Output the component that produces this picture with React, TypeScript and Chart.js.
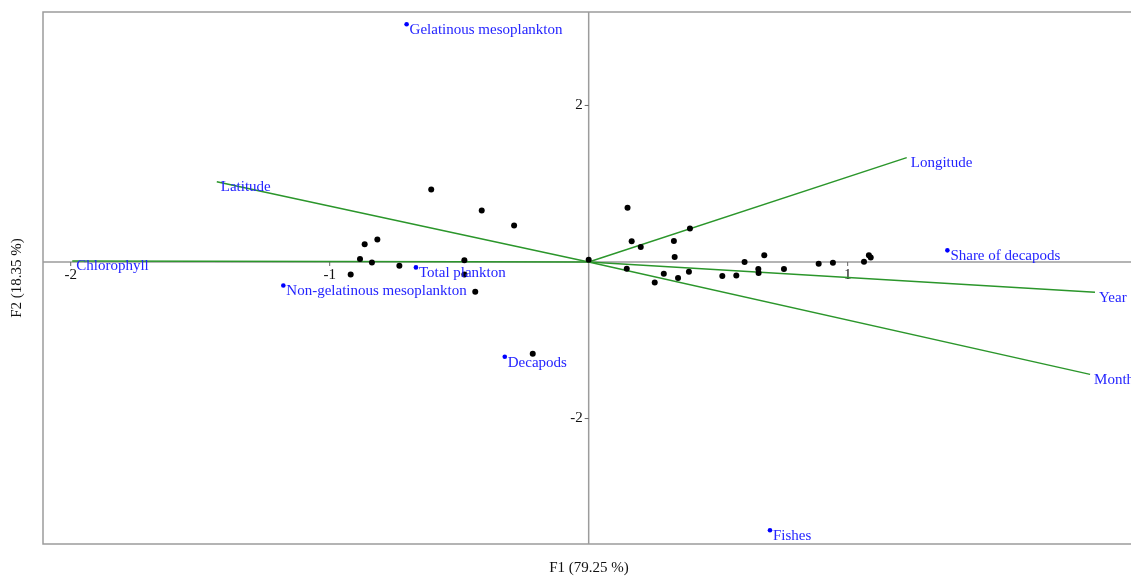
import React, { useEffect, useRef } from "react";
import { Chart, registerables } from "chart.js";

Chart.register(...registerables);

// Observations (black points)
const obsX = [-0.608, -0.413, -0.288, -0.816, -0.865, -0.883, -0.837, -0.731, -0.919, -0.48, -0.48, -0.438, -0.216, 0.0,
  0.15, 0.166, 0.201, 0.329, 0.391, 0.332, 0.147, 0.255, 0.29, 0.345, 0.387, 0.516, 0.57, 0.602, 0.655, 0.656, 0.678,
  0.754, 0.888, 0.943, 1.063, 1.082, 1.089];
const obsY = [0.926, 0.658, 0.465, 0.286, 0.226, 0.038, -0.005, -0.047, -0.159, 0.021, -0.159, -0.381, -1.172, 0.03,
  0.692, 0.264, 0.192, 0.269, 0.427, 0.064, -0.086, -0.261, -0.15, -0.205, -0.124, -0.18, -0.171, 0.0, -0.09, -0.141, 0.085,
  -0.09, -0.022, -0.009, 0.004, 0.085, 0.059];

// Supplementary variables (blue points)
const varNames = ["Gelatinous mesoplankton", "Non-gelatinous mesoplankton", "Total plankton", "Decapods", "Fishes", "Share of decapods"];
const varX = [-0.703, -1.179, -0.667, -0.324, 0.7, 1.385];
const varY = [3.038, -0.3, -0.069, -1.21, -3.428, 0.149];

// Active variables (green vectors)
const vecNames = ["Latitude", "Chlorophyll", "Longitude", "Year", "Month"];
const vecX = [-1.436, -1.994, 1.228, 1.955, 1.936];
const vecY = [1.026, 0.013, 1.333, -0.385, -1.436];

const xTicks = [-2, -1, 1];
const yTicks = [-2, 2];
const xTitle = "F1 (79.25 %)";
const yTitle = "F2 (18.35 %)";

const FONT = "'Liberation Serif', 'Times New Roman', serif";
const GREEN = "#2b962b";
const BLUE = "#0000ff";
const LABEL_BLUE = "#2424ff";
const GRAY = "#9c9c9c";

const biplotPlugin = {
  id: "biplot",
  beforeDatasetsDraw(chart: any) {
    const { ctx, chartArea: a, scales } = chart;
    const x0 = scales.x.getPixelForValue(0);
    const y0 = scales.y.getPixelForValue(0);
    ctx.save();
    ctx.strokeStyle = GRAY;
    ctx.lineWidth = 1.5;
    // frame (left, top, bottom)
    ctx.beginPath();
    ctx.moveTo(a.right + 5, a.top);
    ctx.lineTo(a.left, a.top);
    ctx.lineTo(a.left, a.bottom);
    ctx.lineTo(a.right + 5, a.bottom);
    ctx.stroke();
    // zero axes
    ctx.beginPath();
    ctx.moveTo(a.left, y0);
    ctx.lineTo(a.right, y0);
    ctx.moveTo(x0, a.top);
    ctx.lineTo(x0, a.bottom);
    ctx.stroke();
    // ticks
    ctx.lineWidth = 1;
    ctx.strokeStyle = "#666";
    ctx.font = `15px ${FONT}`;
    ctx.fillStyle = "#111";
    ctx.textAlign = "center";
    ctx.textBaseline = "top";
    xTicks.forEach((t) => {
      const px = scales.x.getPixelForValue(t);
      ctx.beginPath();
      ctx.moveTo(px, y0);
      ctx.lineTo(px, y0 + 4);
      ctx.stroke();
      ctx.fillText(String(t), px, y0 + 6);
    });
    ctx.textAlign = "right";
    ctx.textBaseline = "middle";
    yTicks.forEach((t) => {
      const py = scales.y.getPixelForValue(t);
      ctx.beginPath();
      ctx.moveTo(x0 - 4, py);
      ctx.lineTo(x0, py);
      ctx.stroke();
      ctx.fillText(String(t), x0 - 6, py);
    });
    // axis titles
    ctx.textAlign = "center";
    ctx.textBaseline = "middle";
    ctx.fillText(xTitle, 589, 568);
    ctx.save();
    ctx.translate(17, 278);
    ctx.rotate(-Math.PI / 2);
    ctx.fillText(yTitle, 0, 0);
    ctx.restore();
    ctx.restore();
  },
  afterDatasetsDraw(chart: any) {
    const { ctx, scales } = chart;
    ctx.save();
    ctx.font = `15px ${FONT}`;
    ctx.fillStyle = LABEL_BLUE;
    ctx.textAlign = "left";
    ctx.textBaseline = "alphabetic";
    varNames.forEach((n, i) => {
      const px = scales.x.getPixelForValue(varX[i]);
      const py = scales.y.getPixelForValue(varY[i]);
      ctx.fillText(n, px + 3, py + 10);
    });
    vecNames.forEach((n, i) => {
      const px = scales.x.getPixelForValue(vecX[i]);
      const py = scales.y.getPixelForValue(vecY[i]);
      ctx.fillText(n, px + 4, py + 9.5);
    });
    ctx.restore();
  },
};

export default function App() {
  const ref = useRef<HTMLCanvasElement | null>(null);
  useEffect(() => {
    if (!ref.current) return;
    const datasets: any[] = [
      {
        label: "Observations",
        data: obsX.map((x, i) => ({ x, y: obsY[i] })),
        backgroundColor: "#000",
        borderColor: "#000",
        pointRadius: 3,
        borderWidth: 0,
        showLine: false,
      },
      {
        label: "Supplementary",
        data: varX.map((x, i) => ({ x, y: varY[i] })),
        backgroundColor: BLUE,
        borderColor: BLUE,
        pointRadius: 2.3,
        borderWidth: 0,
        showLine: false,
      },
      ...vecNames.map((n, i) => ({
        label: n,
        data: [{ x: 0, y: 0 }, { x: vecX[i], y: vecY[i] }],
        borderColor: GREEN,
        borderWidth: 1.5,
        pointRadius: 0,
        showLine: true,
        fill: false,
      })),
    ];
    const chart = new Chart(ref.current, {
      type: "scatter",
      data: { datasets },
      options: {
        animation: false,
        responsive: false,
        layout: { autoPadding: false, padding: { left: 43, top: 12, right: 0, bottom: 35 } },
        scales: {
          x: { type: "linear", min: -2.107, max: 2.094, display: false },
          y: { type: "linear", min: -3.603, max: 3.194, display: false },
        },
        plugins: { legend: { display: false }, tooltip: { enabled: false } },
      },
      plugins: [biplotPlugin],
    });
    return () => chart.destroy();
  }, []);
  return (
    <div style={{ position: "fixed", left: 0, top: 0, width: 1131, height: 579, overflow: "hidden", background: "#fff" }}>
      <canvas ref={ref} width={1131} height={579} />
    </div>
  );
}
